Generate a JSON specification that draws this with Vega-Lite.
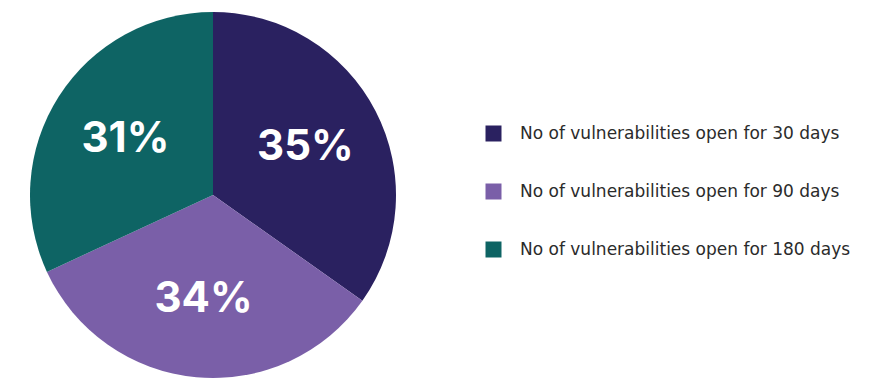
{
  "$schema": "https://vega.github.io/schema/vega-lite/v6.json",
  "width": 426,
  "height": 390,
  "padding": 0,
  "background": "white",
  "data": {
    "values": [
      {"category": "No of vulnerabilities open for 30 days", "value": 34.8, "label": "35%", "order": 1},
      {"category": "No of vulnerabilities open for 90 days", "value": 33.3, "label": "34%", "order": 2},
      {"category": "No of vulnerabilities open for 180 days", "value": 31.9, "label": "31%", "order": 3}
    ]
  },
  "encoding": {
    "theta": {"field": "value", "type": "quantitative", "stack": true},
    "order": {"field": "order", "type": "quantitative"},
    "color": {
      "field": "category",
      "type": "nominal",
      "sort": ["No of vulnerabilities open for 30 days", "No of vulnerabilities open for 90 days", "No of vulnerabilities open for 180 days"],
      "scale": {
        "domain": ["No of vulnerabilities open for 30 days", "No of vulnerabilities open for 90 days", "No of vulnerabilities open for 180 days"],
        "range": ["#2a2160", "#7a5fa8", "#0e6464"]
      },
      "legend": {
        "title": null,
        "orient": "none",
        "legendX": 485,
        "legendY": 125,
        "padding": 0,
        "symbolType": "square",
        "symbolSize": 256,
        "symbolStrokeWidth": 0,
        "symbolOpacity": 1,
        "rowPadding": 40,
        "labelOffset": 18,
        "labelFont": "DejaVu Sans",
        "labelFontSize": 17,
        "labelColor": "#2b2b2b",
        "labelLimit": 400
      }
    }
  },
  "layer": [
    {
      "mark": {"type": "arc", "outerRadius": 183}
    },
    {
      "mark": {"type": "text", "radius": 104, "font": "Inter", "fontWeight": "bold", "fontSize": 42, "fill": "white", "align": "center", "baseline": "middle"},
      "encoding": {
        "text": {"field": "label", "type": "nominal"},
        "color": {"value": "white"}
      }
    }
  ],
  "config": {"view": {"stroke": null}}
}
